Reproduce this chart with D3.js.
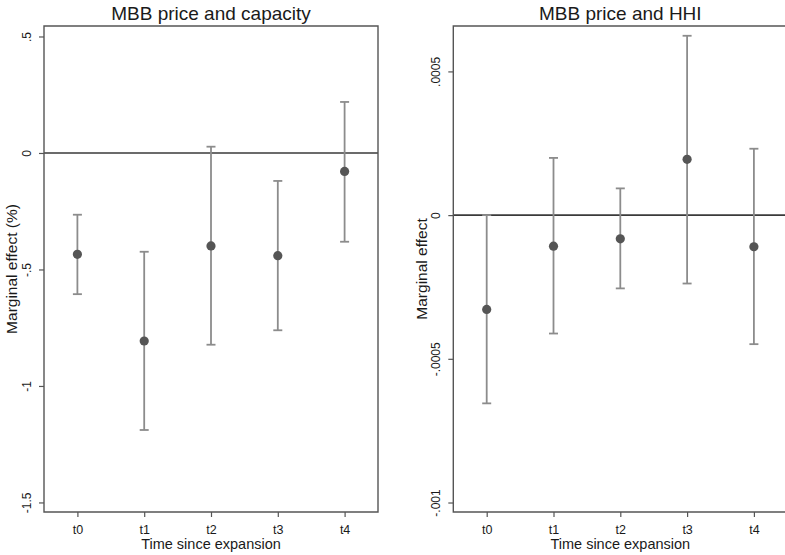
<!DOCTYPE html>
<html>
<head>
<meta charset="utf-8">
<script src="https://cdn.jsdelivr.net/npm/d3@7/dist/d3.min.js"></script>
<style>
  html, body { margin: 0; padding: 0; background: #fff; }
  svg { display: block; font-family: "Liberation Sans", Arial, sans-serif; }
</style>
</head>
<body>
<svg id="chart" width="785" height="555"></svg>
<script>
// ---- Data ----
const categories = ["t0", "t1", "t2", "t3", "t4"];

// Left panel: MBB price and capacity
const capTitle = "MBB price and capacity";
const capYLabel = "Marginal effect (%)";
const capEstimate = [-0.435, -0.807, -0.399, -0.441, -0.079];
const capLower    = [-0.606, -1.189, -0.823, -0.761, -0.381];
const capUpper    = [-0.265, -0.424,  0.027, -0.120,  0.219];
const capTicks = [0.5, 0, -0.5, -1, -1.5];
const capTickLabels = [".5", "0", "-.5", "-1", "-1.5"];
const capDomain = [-1.541, 0.545];

// Right panel: MBB price and HHI
const hhiTitle = "MBB price and HHI";
const hhiYLabel = "Marginal effect";
const hhiEstimate = [-0.000328, -0.000108, -0.0000825, 0.000194, -0.000110];
const hhiLower    = [-0.000655, -0.000412, -0.000255, -0.000238, -0.000449];
const hhiUpper    = [ 0.000000,  0.000199,  0.000093,  0.000624,  0.000231];
const hhiTicks = [0.0005, 0, -0.0005, -0.001];
const hhiTickLabels = [".0005", "0", "-.0005", "-.001"];
const hhiDomain = [-0.001033, 0.000658];

const xLabel = "Time since expansion";

const svg = d3.select("#chart");

function panel(cfg) {
  const { left, right, top, bottom } = cfg;
  const g = svg.append("g");
  const x = d3.scaleLinear().domain([-0.5, categories.length - 0.5]).range([left, right]);
  const y = d3.scaleLinear().domain(cfg.domain).range([bottom, top]);

  // Title
  g.append("text")
    .attr("x", (left + right) / 2).attr("y", 20)
    .attr("text-anchor", "middle")
    .attr("font-size", 19).attr("fill", "#1a1a1a")
    .text(cfg.title);

  // Zero line
  g.append("line")
    .attr("x1", left).attr("x2", right)
    .attr("y1", y(0)).attr("y2", y(0))
    .attr("stroke", "#3a3a3a").attr("stroke-width", 1.6);

  // Y axis
  const yAxis = d3.axisLeft(y).tickValues(cfg.ticks)
    .tickFormat((d, i) => cfg.tickLabels[i]).tickSize(5).tickSizeOuter(0);
  const ya = g.append("g").attr("transform", `translate(${left},0)`).call(yAxis);
  ya.select(".domain").remove();
  ya.selectAll(".tick line").attr("stroke", "#555").attr("stroke-width", 1.2);
  ya.selectAll(".tick text")
    .attr("font-size", 12).attr("fill", "#1a1a1a")
    .attr("font-family", "Liberation Sans, Arial, sans-serif")
    .attr("text-anchor", "middle")
    .attr("x", null).attr("dy", null)
    .attr("transform", "translate(-13,0) rotate(-90)");

  // X axis
  const xAxis = d3.axisBottom(x).tickValues(d3.range(categories.length))
    .tickFormat(i => categories[i]).tickSize(5).tickSizeOuter(0);
  const xa = g.append("g").attr("transform", `translate(0,${bottom})`).call(xAxis);
  xa.select(".domain").remove();
  xa.selectAll(".tick line").attr("stroke", "#555").attr("stroke-width", 1.2);
  xa.selectAll(".tick text")
    .attr("font-size", 12.5).attr("fill", "#1a1a1a")
    .attr("font-family", "Liberation Sans, Arial, sans-serif")
    .attr("y", 21.5).attr("dy", null);

  // Frame
  g.append("path")
    .attr("d", `M${left},${top}H${right}V${bottom}H${left}Z`)
    .attr("fill", "none").attr("stroke", "#555").attr("stroke-width", 1.4);

  // Axis titles
  g.append("text")
    .attr("transform", `translate(${cfg.yLabelX},${(top + bottom) / 2}) rotate(-90)`)
    .attr("text-anchor", "middle")
    .attr("font-size", 15.5).attr("fill", "#1a1a1a")
    .text(cfg.yLabel);
  g.append("text")
    .attr("x", (left + right) / 2).attr("y", 549)
    .attr("text-anchor", "middle")
    .attr("font-size", 14.5).attr("fill", "#1a1a1a")
    .text(xLabel);

  // Error bars
  const data = categories.map((c, i) => ({ i, est: cfg.est[i], lo: cfg.lo[i], hi: cfg.hi[i] }));
  const eb = g.append("g").attr("stroke", "#8c8c8c").attr("stroke-width", 1.8);
  eb.selectAll("line.v").data(data).join("line").attr("class", "v")
    .attr("x1", d => x(d.i)).attr("x2", d => x(d.i))
    .attr("y1", d => y(d.lo)).attr("y2", d => y(d.hi));
  eb.selectAll("line.lo").data(data).join("line").attr("class", "lo")
    .attr("x1", d => x(d.i) - 4.5).attr("x2", d => x(d.i) + 4.5)
    .attr("y1", d => y(d.lo)).attr("y2", d => y(d.lo));
  eb.selectAll("line.hi").data(data).join("line").attr("class", "hi")
    .attr("x1", d => x(d.i) - 4.5).attr("x2", d => x(d.i) + 4.5)
    .attr("y1", d => y(d.hi)).attr("y2", d => y(d.hi));

  // Points
  g.selectAll("circle").data(data).join("circle")
    .attr("cx", d => x(d.i)).attr("cy", d => y(d.est))
    .attr("r", 4.6).attr("fill", "#555");
}

panel({
  left: 44, right: 378, top: 26, bottom: 512,
  domain: capDomain, ticks: capTicks, tickLabels: capTickLabels,
  title: capTitle, yLabel: capYLabel, yLabelX: 17,
  est: capEstimate, lo: capLower, hi: capUpper
});

panel({
  left: 453.3, right: 787.3, top: 26, bottom: 512,
  domain: hhiDomain, ticks: hhiTicks, tickLabels: hhiTickLabels,
  title: hhiTitle, yLabel: hhiYLabel, yLabelX: 427,
  est: hhiEstimate, lo: hhiLower, hi: hhiUpper
});
</script>
</body>
</html>
